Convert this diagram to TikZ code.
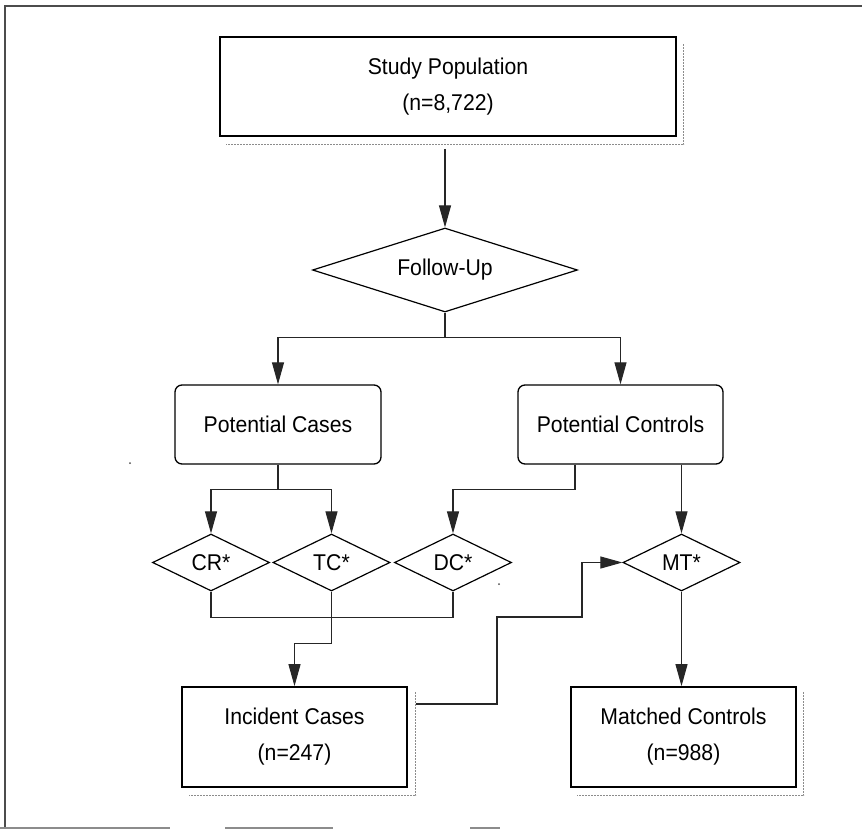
\documentclass[tikz,border=0pt]{standalone}
\usepackage{fontspec}
\setmainfont{Liberation Sans}[FakeStretch=0.93]
\usetikzlibrary{shapes.geometric,arrows.meta,calc}
\begin{document}
\begin{tikzpicture}[x=1pt,y=-1pt,
  every node/.style={font=\fontsize{22.8}{36}\selectfont, inner sep=0pt, text=black},
  sqbox/.style={draw=black, line width=1.7pt, align=center},
  rbox/.style={draw=black, line width=1.3pt, rounded corners=7pt, minimum height=79pt},
  dia/.style={draw=black, diamond, line width=1.2pt},
  con/.style={draw=black!85, line width=1.1pt},
  arr/.style={con, -{Triangle[length=22pt,width=12pt]}},
  shadowline/.style={draw=black!45, line width=1.2pt, dash pattern=on 2pt off 1pt},
  framel/.style={draw=black!70, line width=1.5pt}]
\useasboundingbox (0,0) rectangle (862,830);
% frame
\draw[framel] (862,6) -- (5,6) -- (5,828);
\draw[framel, draw=black!45] (0,828) -- (170,828);
\draw[framel, draw=black!45] (225,828) -- (333,828);
\draw[framel, draw=black!45] (470,828) -- (500,828);
% nodes
\node[sqbox, minimum width=456pt, minimum height=99pt] (sp) at (448,86.5) {Study Population\\(n=8,722)};
\node[dia, aspect=3.15, minimum width=265pt, minimum height=84pt] (fu) at (445,270) {Follow-Up};
\node[rbox, minimum width=206pt] (pc) at (278,424.5) {Potential Cases};
\node[rbox, minimum width=205pt] (pctrl) at (620.5,424.5) {Potential Controls};
\node[dia, aspect=2, minimum width=117pt, minimum height=57pt] (cr) at (211,562.5) {CR*};
\node[dia, aspect=2, minimum width=117pt, minimum height=57pt] (tc) at (331.5,562.5) {TC*};
\node[dia, aspect=2, minimum width=117pt, minimum height=57pt] (dc) at (453,562.5) {DC*};
\node[dia, aspect=2, minimum width=117pt, minimum height=57pt] (mt) at (681.5,562.5) {MT*};
\node[sqbox, minimum width=225pt, minimum height=100pt] (ic) at (294.5,737) {Incident Cases\\(n=247)};
\node[sqbox, minimum width=225pt, minimum height=100pt] (mc) at (683.5,737) {Matched Controls\\(n=988)};
% shadows
\draw[shadowline] ($(sp.north east)+(7,8)$) -- ($(sp.south east)+(7,8)$) -- ($(sp.south west)+(7,8)$);
\draw[shadowline] ($(ic.north east)+(8,6)$) -- ($(ic.south east)+(8,8)$) -- ($(ic.south west)+(8,8)$);
\draw[shadowline] ($(mc.north east)+(7,6)$) -- ($(mc.south east)+(7,8)$) -- ($(mc.south west)+(7,8)$);
% junction points
\coordinate (j1) at ($(fu.south)+(0,25)$);
\coordinate (j2) at ($(pc.south)+(0,25)$);
\coordinate (j3) at ($(pctrl.south)+(-45.5,25)$);
\coordinate (j4) at ($(tc.south)+(0,26)$);
\coordinate (k1) at (497,617);
\coordinate (k2) at (582,617);
% connectors
\draw[arr] ($(fu.north |- sp.south)+(0,12)$) -- (fu.north);
\draw[arr] (fu.south) -- (j1) -| (pc.north);
\draw[arr] (j1) -| (pctrl.north);
\draw[arr] (pc.south) -- (j2) -| (cr.north);
\draw[arr] (j2) -| (tc.north);
\draw[arr] ($(pctrl.south)+(-45.5,0)$) -- (j3) -| (dc.north);
\draw[arr] (pctrl.south -| mt.north) -- (mt.north);
\draw[con] (cr.south) |- (j4) -| (dc.south);
\draw[arr] (tc.south) -- (j4) -- ++(0,26) -| (ic.north);
\draw[arr] ($(ic.east)+(8,-33)$) -| (k1) -- (k2) |- (mt.west);
\draw[arr] (mt.south) -- (mt.south |- mc.north);
% specks
\fill[black!70] (130,463) circle (1pt);
\fill[black!70] (499,584) circle (1pt);
\end{tikzpicture}
\end{document}
